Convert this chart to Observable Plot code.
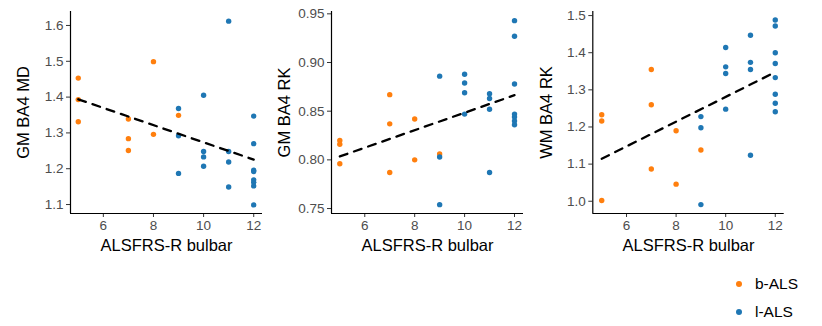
<!DOCTYPE html>
<html><head><meta charset="utf-8">
<script src="https://cdn.jsdelivr.net/npm/d3@7"></script>
<script src="https://cdn.jsdelivr.net/npm/@observablehq/plot@0.6"></script>
<style>
body{margin:0;background:#fff;font-family:"Liberation Sans",Arial,sans-serif;}
#wrap{position:relative;width:822px;height:326px;overflow:hidden;background:#fff;}
#wrap svg{position:absolute;top:0;}
</style></head>
<body><div id="wrap"></div>
<script>
// ---- data ----
const groups = ["b-ALS", "l-ALS"];
const groupColors = ["#ff7f0e", "#1f77b4"];
const xTitle = "ALSFRS-R bulbar";
const xTicks = [6, 8, 10, 12];

// Panel 1: GM BA4 MD
const mdBulbarX = [5,5,5,7,7,7,8,8,9];
const mdBulbarY = [1.453,1.393,1.331,1.339,1.284,1.251,1.499,1.296,1.349];
const mdLimbX = [9,9,9,10,10,10,10,11,11,11,11,12,12,12,12,12,12,12,12];
const mdLimbY = [1.368,1.292,1.187,1.405,1.248,1.233,1.207,1.612,1.248,1.219,1.149,1.347,1.270,1.196,1.192,1.169,1.162,1.152,1.099];
const mdTicks = [1.1,1.2,1.3,1.4,1.5,1.6];

// Panel 2: GM BA4 RK
const gmBulbarX = [5,5,5,7,7,7,8,8,9];
const gmBulbarY = [0.820,0.816,0.796,0.867,0.837,0.787,0.842,0.800,0.806];
const gmLimbX = [9,9,9,10,10,10,10,11,11,11,11,12,12,12,12,12,12,12];
const gmLimbY = [0.886,0.803,0.754,0.888,0.879,0.869,0.847,0.868,0.863,0.852,0.787,0.943,0.927,0.878,0.847,0.844,0.840,0.836];
const gmTicks = [0.75,0.80,0.85,0.90,0.95];

// Panel 3: WM BA4 RK
const wmBulbarX = [5,5,5,7,7,7,8,8,9];
const wmBulbarY = [1.233,1.216,1.002,1.355,1.260,1.087,1.190,1.046,1.138];
const wmLimbX = [9,9,9,10,10,10,10,11,11,11,11,12,12,12,12,12,12,12,12];
const wmLimbY = [1.228,1.198,0.991,1.414,1.362,1.344,1.248,1.447,1.374,1.355,1.124,1.488,1.472,1.400,1.371,1.333,1.288,1.264,1.241];
const wmTicks = [1.0,1.1,1.2,1.3,1.4,1.5];

function rows(bx, by, lx, ly) {
  return [
    ...bx.map((x, i) => ({x, y: by[i], group: groups[0]})),
    ...lx.map((x, i) => ({x, y: ly[i], group: groups[1]}))
  ];
}

const font = "Liberation Sans, Arial, sans-serif";

function panel(cfg) {
  const data = rows(cfg.bx, cfg.by, cfg.lx, cfg.ly);
  const svg = Plot.plot({
    width: cfg.width, height: 260,
    marginLeft: cfg.ml, marginRight: cfg.mr, marginTop: 11, marginBottom: 47,
    style: {fontFamily: font, background: "transparent", overflow: "visible"},
    x: {domain: cfg.xdom},
    y: {domain: cfg.ydom},
    color: {domain: groups, range: groupColors},
    marks: [
      Plot.axisX({ticks: xTicks, tickSize: 4, tickPadding: 3, fontSize: 13.5, fill: "#4d4d4d", stroke: "#333", label: null}),
      Plot.axisY({ticks: cfg.ticks, tickFormat: cfg.fmt, tickSize: 4, tickPadding: 3, fontSize: 13.5, fill: "#4d4d4d", stroke: "#333", label: null}),
      Plot.ruleX([cfg.xdom[0]], {stroke: "black", strokeWidth: 1.2}),
      Plot.ruleY([cfg.ydom[0]], {stroke: "black", strokeWidth: 1.2}),
      Plot.dot(data, {x: "x", y: "y", fill: "group", r: 2.7}),
      Plot.linearRegressionY(data, {x: "x", y: "y", stroke: "black", strokeWidth: 2.3, strokeDasharray: "8,7", ci: 0}),
      Plot.text([cfg.title], {frameAnchor: "left", textAnchor: "middle", rotate: -90, dx: cfg.titleDx, lineAnchor: "middle", fontSize: 16.5, fill: "black"}),
      Plot.text([xTitle], {frameAnchor: "bottom", dy: 32, lineAnchor: "middle", fontSize: 16.5, fill: "black"})
    ]
  });
  svg.style.left = cfg.left + "px";
  return svg;
}

const wrap = document.getElementById("wrap");
wrap.appendChild(panel({left: 0, width: 270, ml: 70, mr: 8, xdom: [4.69, 12.35], ydom: [1.075, 1.639],
  bx: mdBulbarX, by: mdBulbarY, lx: mdLimbX, ly: mdLimbY, ticks: mdTicks, fmt: d3.format(".1f"), title: "GM BA4 MD", titleDx: -47}));
wrap.appendChild(panel({left: 270, width: 270, ml: 61, mr: 17, xdom: [4.667, 12.36], ydom: [0.7449, 0.9524],
  bx: gmBulbarX, by: gmBulbarY, lx: gmLimbX, ly: gmLimbY, ticks: gmTicks, fmt: d3.format(".2f"), title: "GM BA4 RK", titleDx: -47}));
wrap.appendChild(panel({left: 540, width: 282, ml: 52.3, mr: 38.3, xdom: [4.64, 12.36], ydom: [0.967, 1.511],
  bx: wmBulbarX, by: wmBulbarY, lx: wmLimbX, ly: wmLimbY, ticks: wmTicks, fmt: d3.format(".1f"), title: "WM BA4 RK", titleDx: -46}));

// legend
const leg = d3.create("svg").attr("width", 100).attr("height", 60)
  .style("left", "722px").style("top", "266px").style("position", "absolute");
const item = leg.selectAll("g").data(groups).join("g")
  .attr("transform", (d, i) => `translate(0,${18 + i * 28})`);
item.append("circle").attr("cx", 17).attr("cy", 0).attr("r", 3).attr("fill", (d, i) => groupColors[i]);
item.append("text").attr("x", 33).attr("y", 0).attr("dy", "0.35em")
  .style("font-family", font).style("font-size", "15.5px").attr("fill", "black").text(d => d);
wrap.appendChild(leg.node());
</script>
</body></html>
